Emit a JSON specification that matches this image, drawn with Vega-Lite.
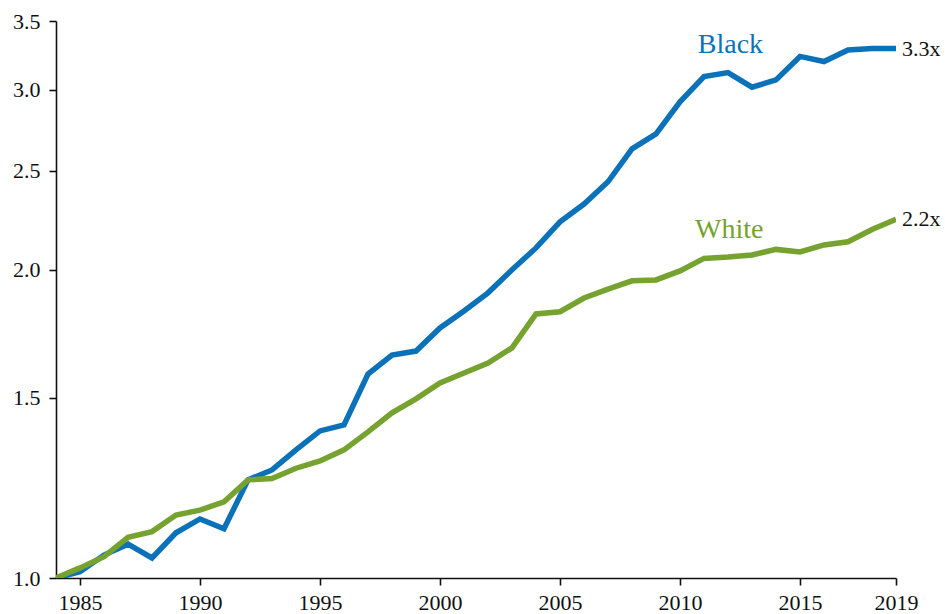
{
  "$schema": "https://vega.github.io/schema/vega-lite/v6.json",
  "width": 840,
  "height": 557,
  "autosize": {"type": "none"},
  "padding": {"left": 56, "top": 21, "right": 49, "bottom": 36},
  "background": "white",
  "config": {
    "view": {"stroke": null},
    "font": "Liberation Serif",
    "axis": {"labelFont": "Liberation Serif", "labelFontSize": 22, "labelColor": "#111", "domainColor": "#111", "tickColor": "#111", "domainWidth": 1.6, "tickWidth": 1.6, "tickSize": 7, "grid": false, "title": null}
  },
  "datasets": {
    "series": [
      {"year": 1984, "group": "Black", "value": 1.0},
      {"year": 1985, "group": "Black", "value": 1.014},
      {"year": 1986, "group": "Black", "value": 1.053},
      {"year": 1987, "group": "Black", "value": 1.079},
      {"year": 1988, "group": "Black", "value": 1.046},
      {"year": 1989, "group": "Black", "value": 1.107},
      {"year": 1990, "group": "Black", "value": 1.142},
      {"year": 1991, "group": "Black", "value": 1.117},
      {"year": 1992, "group": "Black", "value": 1.247},
      {"year": 1993, "group": "Black", "value": 1.275},
      {"year": 1994, "group": "Black", "value": 1.334},
      {"year": 1995, "group": "Black", "value": 1.392},
      {"year": 1996, "group": "Black", "value": 1.411},
      {"year": 1997, "group": "Black", "value": 1.582},
      {"year": 1998, "group": "Black", "value": 1.651},
      {"year": 1999, "group": "Black", "value": 1.666},
      {"year": 2000, "group": "Black", "value": 1.755},
      {"year": 2001, "group": "Black", "value": 1.823},
      {"year": 2002, "group": "Black", "value": 1.899},
      {"year": 2003, "group": "Black", "value": 2.0},
      {"year": 2004, "group": "Black", "value": 2.101},
      {"year": 2005, "group": "Black", "value": 2.228},
      {"year": 2006, "group": "Black", "value": 2.319},
      {"year": 2007, "group": "Black", "value": 2.438},
      {"year": 2008, "group": "Black", "value": 2.625},
      {"year": 2009, "group": "Black", "value": 2.715},
      {"year": 2010, "group": "Black", "value": 2.918},
      {"year": 2011, "group": "Black", "value": 3.089},
      {"year": 2012, "group": "Black", "value": 3.117},
      {"year": 2013, "group": "Black", "value": 3.016},
      {"year": 2014, "group": "Black", "value": 3.066},
      {"year": 2015, "group": "Black", "value": 3.232},
      {"year": 2016, "group": "Black", "value": 3.195},
      {"year": 2017, "group": "Black", "value": 3.279},
      {"year": 2018, "group": "Black", "value": 3.29},
      {"year": 2019, "group": "Black", "value": 3.29},
      {"year": 1984, "group": "White", "value": 1.0},
      {"year": 1985, "group": "White", "value": 1.023},
      {"year": 1986, "group": "White", "value": 1.049},
      {"year": 1987, "group": "White", "value": 1.096},
      {"year": 1988, "group": "White", "value": 1.11},
      {"year": 1989, "group": "White", "value": 1.152},
      {"year": 1990, "group": "White", "value": 1.165},
      {"year": 1991, "group": "White", "value": 1.187},
      {"year": 1992, "group": "White", "value": 1.247},
      {"year": 1993, "group": "White", "value": 1.251},
      {"year": 1994, "group": "White", "value": 1.28},
      {"year": 1995, "group": "White", "value": 1.301},
      {"year": 1996, "group": "White", "value": 1.334},
      {"year": 1997, "group": "White", "value": 1.389},
      {"year": 1998, "group": "White", "value": 1.45},
      {"year": 1999, "group": "White", "value": 1.496},
      {"year": 2000, "group": "White", "value": 1.551},
      {"year": 2001, "group": "White", "value": 1.586},
      {"year": 2002, "group": "White", "value": 1.622},
      {"year": 2003, "group": "White", "value": 1.678},
      {"year": 2004, "group": "White", "value": 1.811},
      {"year": 2005, "group": "White", "value": 1.82},
      {"year": 2006, "group": "White", "value": 1.877},
      {"year": 2007, "group": "White", "value": 1.915},
      {"year": 2008, "group": "White", "value": 1.951},
      {"year": 2009, "group": "White", "value": 1.955},
      {"year": 2010, "group": "White", "value": 1.995},
      {"year": 2011, "group": "White", "value": 2.052},
      {"year": 2012, "group": "White", "value": 2.058},
      {"year": 2013, "group": "White", "value": 2.068},
      {"year": 2014, "group": "White", "value": 2.094},
      {"year": 2015, "group": "White", "value": 2.082},
      {"year": 2016, "group": "White", "value": 2.115},
      {"year": 2017, "group": "White", "value": 2.13},
      {"year": 2018, "group": "White", "value": 2.19},
      {"year": 2019, "group": "White", "value": 2.241}
    ],
    "names": [
      {"year": 2012.1, "group": "Black", "value": 3.317, "label": "Black"},
      {"year": 2012.05, "group": "White", "value": 2.187, "label": "White"}
    ],
    "ends": [
      {"year": 2019, "value": 3.29, "label": "3.3x"},
      {"year": 2019, "value": 2.241, "label": "2.2x"}
    ]
  },
  "layer": [
    {
      "data": {"name": "series"},
      "mark": {"type": "line", "strokeWidth": 5.5, "strokeJoin": "miter", "strokeCap": "butt", "clip": true},
      "encoding": {
        "x": {"field": "year", "type": "quantitative", "scale": {"domain": [1984, 2019], "nice": false, "zero": false},
              "axis": {"values": [1985, 1990, 1995, 2000, 2005, 2010, 2015, 2019], "format": "d", "labelPadding": 7, "labelFlush": false}},
        "y": {"field": "value", "type": "quantitative", "scale": {"type": "log", "domain": [1, 3.5], "nice": false},
              "axis": {"values": [1.0, 1.5, 2.0, 2.5, 3.0, 3.5], "format": ".1f", "labelPadding": 9}},
        "color": {"field": "group", "type": "nominal", "scale": {"domain": ["Black", "White"], "range": ["#0b72ba", "#76a22f"]}, "legend": null}
      }
    },
    {
      "data": {"name": "names"},
      "mark": {"type": "text", "fontSize": 28, "font": "Liberation Serif", "align": "center", "baseline": "middle"},
      "encoding": {
        "x": {"field": "year", "type": "quantitative"},
        "y": {"field": "value", "type": "quantitative"},
        "text": {"field": "label"},
        "color": {"field": "group", "type": "nominal", "legend": null}
      }
    },
    {
      "data": {"name": "ends"},
      "mark": {"type": "text", "fontSize": 22, "font": "Liberation Serif", "align": "left", "baseline": "middle", "dx": 6, "color": "#111"},
      "encoding": {
        "x": {"field": "year", "type": "quantitative"},
        "y": {"field": "value", "type": "quantitative"},
        "text": {"field": "label"}
      }
    }
  ]
}
